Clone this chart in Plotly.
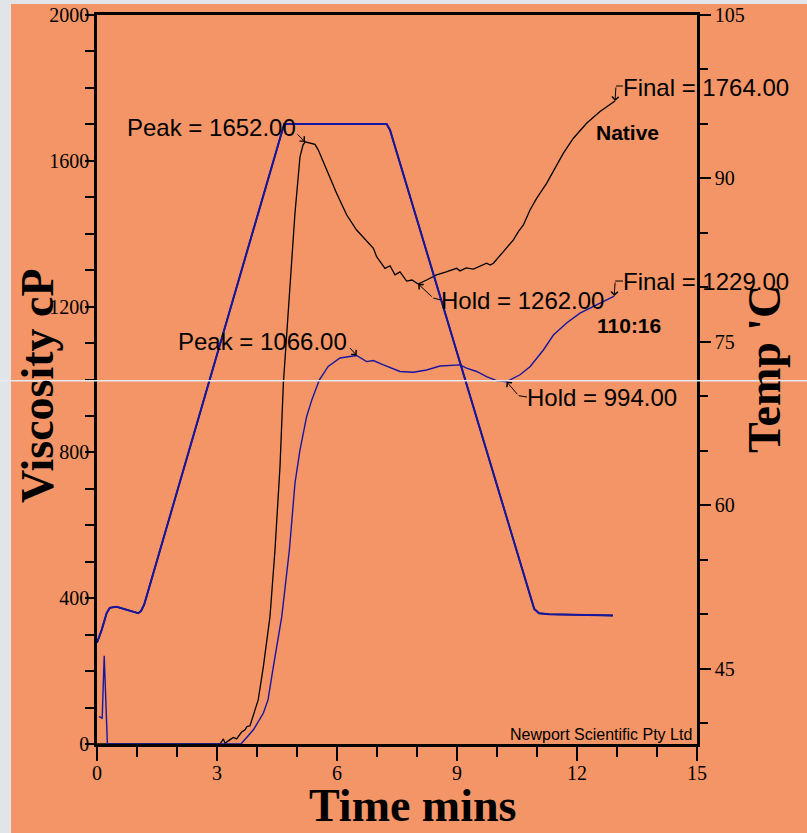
import plotly.graph_objects as go

# ---------------- data ----------------
native_t = [0.0, 2.6, 3.075, 3.16, 3.2, 3.325, 3.41, 3.49, 3.61, 3.7, 3.75, 3.825, 3.91, 4.03,
            4.16, 4.24, 4.325, 4.45, 4.575, 4.66, 4.8, 4.95, 5.075, 5.15, 5.2, 5.325, 5.45,
            5.53, 5.7, 5.99, 6.24, 6.49, 6.91, 6.99, 7.2, 7.325, 7.45, 7.575, 7.66, 7.74,
            7.875, 8.03, 8.24, 8.49, 8.73, 8.99, 9.075, 9.23, 9.41, 9.575, 9.74, 9.83, 9.91,
            10.16, 10.41, 10.53, 10.66, 10.825, 10.99, 11.24, 11.45, 11.66, 11.91, 12.24,
            12.575, 12.95]
native_v = [0, 0, 0, 14, 2, 12, 18, 14, 32, 39, 48, 50, 80, 121,
            213, 286, 350, 533, 761, 991, 1218, 1457, 1611, 1643, 1652, 1648, 1645,
            1630, 1584, 1511, 1452, 1410, 1360, 1337, 1305, 1312, 1287, 1295, 1282, 1270,
            1273, 1262, 1273, 1287, 1295, 1305, 1298, 1306, 1303, 1312, 1319, 1314, 1319,
            1351, 1383, 1405, 1424, 1465, 1497, 1538, 1580, 1621, 1662, 1703,
            1735, 1764]

s110_t = [0.05, 0.13, 0.18, 0.26, 3.6, 3.7, 3.91, 4.16, 4.275, 4.41, 4.62, 4.81, 4.95, 5.075,
          5.24, 5.37, 5.56, 5.78, 6.075, 6.325, 6.49, 6.74, 6.91, 7.16, 7.325, 7.575, 7.91,
          8.24, 8.575, 8.825, 9.075, 9.24, 9.49, 9.74, 9.99, 10.24, 10.575, 10.825, 11.075,
          11.16, 11.41, 11.74, 12.075, 12.49, 12.93]
s110_v = [75, 71, 242, 0, 0, 12, 39, 85, 121, 213, 350, 533, 716, 807,
          898, 944, 999, 1036, 1059, 1063, 1066, 1049, 1052, 1040, 1032, 1022, 1020,
          1026, 1037, 1039, 1040, 1031, 1022, 1008, 997, 994, 1013, 1035, 1068,
          1081, 1122, 1155, 1182, 1205, 1229]

temp_t = [0.0, 0.12, 0.24, 0.32, 0.49, 0.66, 0.83, 1.03, 1.1, 1.18, 4.68, 7.24, 7.325,
          10.93, 11.05, 11.3, 12.9]
temp_c = [47.4, 48.6, 50.1, 50.6, 50.7, 50.5, 50.3, 50.1, 50.3, 50.9, 95.0, 95.0, 94.45,
          50.5, 50.1, 50.0, 49.9]

x_tickvals = [0, 3, 6, 9, 12, 15]
y_tickvals = [0, 400, 800, 1200, 1600, 2000]
y2_tickvals = [45, 60, 75, 90, 105]

# ---------------- layout helpers ----------------
W, H = 807, 833
X0, X1, Y0, Y1 = 97, 697, 15, 744
ORANGE = "#F49567"
BLUE = "#1616A2"
SERIF = "Liberation Serif, Times New Roman, serif"
SANS = "Liberation Sans, Arial, sans-serif"


def px(X):
    return (X - X0) / (X1 - X0)


def py(Y):
    return (Y1 - Y) / (Y1 - Y0)


def dpx(t):
    return X0 + t * (X1 - X0) / 15.0


def dpy(v):
    return Y1 - v * (Y1 - Y0) / 2000.0


fig = go.Figure()
fig.add_trace(go.Scatter(x=temp_t, y=temp_c, yaxis="y2", mode="lines",
                         line=dict(color="black", width=1.5), showlegend=False))
fig.add_trace(go.Scatter(x=temp_t, y=temp_c, yaxis="y2", mode="lines",
                         line=dict(color=BLUE, width=2), showlegend=False))
fig.add_trace(go.Scatter(x=native_t, y=native_v, mode="lines",
                         line=dict(color="black", width=1.3), showlegend=False))
fig.add_trace(go.Scatter(x=s110_t, y=s110_v, mode="lines",
                         line=dict(color=BLUE, width=1.4), showlegend=False))

# key points: peak during the hot phase, hold = trough before the end of cooling
hot_end = temp_t[12]
cool_end = temp_t[13]


def peak(ts, vs):
    idx = [k for k in range(len(ts)) if ts[k] <= hot_end]
    i = max(idx, key=lambda k: vs[k])
    return ts[i], vs[i], i


def hold(ts, vs, start):
    idx = [k for k in range(start, len(ts)) if ts[k] <= cool_end]
    j = min(idx, key=lambda k: vs[k])
    return ts[j], vs[j]


npk_t, npk_v, npk_i = peak(native_t, native_v)
nhd_t, nhd_v = hold(native_t, native_v, npk_i)
nfn_t, nfn_v = native_t[-1], native_v[-1]
spk_t, spk_v, spk_i = peak(s110_t, s110_v)
shd_t, shd_v = hold(s110_t, s110_v, spk_i)
sfn_t, sfn_v = s110_t[-1], s110_v[-1]

annotations = []
shapes = []


def arrow(t, v, ax, ay):
    annotations.append(dict(x=t, y=v, xref="x", yref="y", text="", showarrow=True,
                            ax=ax, ay=ay, arrowhead=4, arrowsize=1.3, arrowwidth=1,
                            arrowcolor="black", standoff=0))


def label(text, X, Y, size=24, bold=False, fam=SANS):
    annotations.append(dict(x=px(X), y=py(Y), xref="paper", yref="paper",
                            text=("<b>%s</b>" % text) if bold else text,
                            showarrow=False, xanchor="left", yanchor="middle",
                            font=dict(family=fam, size=size, color="black")))


def stub(Xa, Ya, Xb, Yb):
    shapes.append(dict(type="line", xref="paper", yref="paper",
                       x0=px(Xa), y0=py(Ya), x1=px(Xb), y1=py(Yb),
                       line=dict(color="black", width=1)))


# Native labels
label("Peak = %.2f" % npk_v, 125, 127)
arrow(npk_t, npk_v, -9, -9)
label("Hold = %.2f" % nhd_v, 439, 300)
arrow(nhd_t, nhd_v, 15, 14)
stub(dpx(nhd_t) + 15, dpy(nhd_v) + 14, 441, 300)
label("Final = %.2f" % nfn_v, 621, 87)
arrow(nfn_t, nfn_v, 1, -15)
stub(dpx(nfn_t) + 1, dpy(nfn_v) - 15, 623, dpy(nfn_v) - 15)
label("Native", 594, 132, size=21, bold=True)

# 110:16 labels
label("Peak = %.2f" % spk_v, 176, 341)
arrow(spk_t, spk_v, -8, -9)
label("Hold = %.2f" % shd_v, 525, 397)
arrow(shd_t, shd_v, 12, 14)
stub(dpx(shd_t) + 12, dpy(shd_v) + 14, 527, 397)
label("Final = %.2f" % sfn_v, 621, 281)
arrow(sfn_t, sfn_v, 1, -15)
stub(dpx(sfn_t) + 1, dpy(sfn_v) - 15, 623, dpy(sfn_v) - 15)
label("110:16", 595, 325, size=21, bold=True)

label("Newport Scientific Pty Ltd", 508, 734, size=16)

# axis titles
annotations.append(dict(x=px(38), y=py(386), xref="paper", yref="paper", text="<b>Viscosity cP</b>",
                        showarrow=False, textangle=-90, xanchor="center", yanchor="middle",
                        font=dict(family=SERIF, size=46, color="black")))
annotations.append(dict(x=px(764), y=py(369), xref="paper", yref="paper", text="<b>Temp 'C</b>",
                        showarrow=False, textangle=-90, xanchor="center", yanchor="middle",
                        font=dict(family=SERIF, size=46, color="black")))
annotations.append(dict(x=px(412), y=py(833), xref="paper", yref="paper", text="<b>Time mins</b>",
                        showarrow=False, xanchor="center", yanchor="bottom",
                        font=dict(family=SERIF, size=46, color="black")))

# background pieces: pale photo strip at left/top and a thin light line across
shapes.append(dict(type="rect", xref="paper", yref="paper", x0=px(0), x1=px(11), y0=py(H), y1=py(0),
                   fillcolor="#E1E5E7", line=dict(width=0), layer="below"))
shapes.append(dict(type="rect", xref="paper", yref="paper", x0=px(11), x1=px(W), y0=py(4), y1=py(0),
                   fillcolor="#E1E5E7", line=dict(width=0), layer="below"))
shapes.append(dict(type="line", xref="paper", yref="paper", x0=px(0), x1=px(W), y0=py(380.7), y1=py(380.7),
                   line=dict(color="#E4ECF2", width=1.5), layer="above"))

tickfont = dict(family=SERIF, size=20, color="black")
fig.update_layout(
    width=W, height=H,
    margin=dict(l=X0, r=W - X1, t=Y0, b=H - Y1, autoexpand=False),
    paper_bgcolor=ORANGE, plot_bgcolor=ORANGE,
    showlegend=False,
    annotations=annotations,
    shapes=shapes,
    xaxis=dict(range=[0, 15], tickvals=x_tickvals, ticks="outside", ticklen=14, tickwidth=2,
               tickcolor="black", showline=True, linecolor="black", linewidth=2.5, mirror=True,
               showgrid=False, zeroline=False, tickfont=tickfont, automargin=False,
               ticklabelstandoff=-5,
               minor=dict(dtick=1, ticks="outside", ticklen=10, tickwidth=2, tickcolor="black",
                          showgrid=False)),
    yaxis=dict(range=[0, 2000], tickvals=y_tickvals, ticks="outside", ticklen=9, tickwidth=2,
               tickcolor="black", showline=True, linecolor="black", linewidth=2.5,
               showgrid=False, zeroline=False, tickfont=tickfont, ticklabelstandoff=-8,
               automargin=False,
               minor=dict(dtick=100, ticks="outside", ticklen=9, tickwidth=2, tickcolor="black",
                          showgrid=False)),
    yaxis2=dict(range=[38.1, 105], overlaying="y", side="right", tickvals=y2_tickvals,
                ticks="outside", ticklen=11, tickwidth=2, tickcolor="black", showline=True,
                linecolor="black", linewidth=2.5, showgrid=False, zeroline=False,
                tickfont=tickfont, automargin=False,
                minor=dict(dtick=5, ticks="outside", ticklen=8, tickwidth=2, tickcolor="black",
                           showgrid=False)),
)

fig.write_html("out.html")
